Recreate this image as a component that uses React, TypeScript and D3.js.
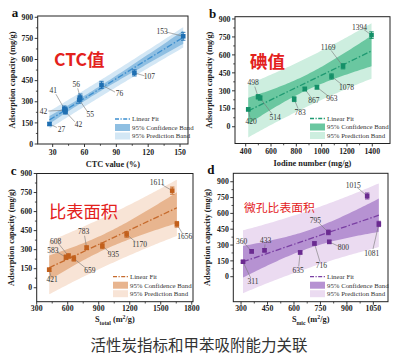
import React from "react";
import * as d3 from "d3";

// ---------- data ----------
const ctcX = [27, 41, 42, 42, 55, 56, 76, 107, 153];
const ctcY = [142, 250, 240, 230, 315, 330, 420, 505, 765];
const ctcErr = [10, 20, 20, 18, 25, 25, 25, 22, 28];

const iodX = [420, 498, 514, 783, 867, 963, 1078, 1169, 1394];
const iodY = [145, 250, 240, 230, 315, 330, 420, 505, 765];
const iodErr = [12, 18, 18, 20, 15, 15, 22, 22, 28];

const stotX = [421, 583, 608, 659, 783, 935, 1170, 1611, 1656];
const stotY = [142, 240, 250, 230, 315, 330, 420, 765, 500];
const stotErr = [12, 18, 18, 20, 15, 22, 22, 28, 22];

const smicX = [311, 360, 433, 635, 716, 795, 800, 1015, 1081];
const smicY = [142, 240, 250, 230, 315, 420, 330, 765, 500];
const smicErr = [10, 15, 15, 15, 15, 22, 15, 28, 25];

const yTicks = [0, 150, 300, 450, 600, 750, 900];
const ctcTicks = [30, 60, 90, 120, 150];
const iodTicks = [400, 600, 800, 1000, 1200, 1400];
const stotTicks = [300, 600, 900, 1200, 1500, 1800];
const smicTicks = [300, 450, 600, 750, 900, 1050];

const legendLabels = ["Linear Fit", "95% Confidence Band", "95% Prediction Band"];
const caption = "活性炭指标和甲苯吸附能力关联";
const T975 = 2.365; // t(0.975, df = 7)

// ---------- layout / style ----------
type PanelCfg = {
  letter: string;
  xs: number[]; ys: number[]; err: number[];
  xTicks: number[];
  xDomain: [number, number]; yDomain: [number, number];
  frame: { l: number; r: number; t: number; b: number };
  title: string; titleX: number; titleY: number; titleSize: number; titleWeight: number;
  xLabel: React.ReactNode;
  offsets: [number, number][];
  col: { mark: string; line: string; conf: string; pred: string };
  legendDx: number;
  tickGap: number; titleGap: number;
};

const panels: PanelCfg[] = [
  {
    letter: "a", xs: ctcX, ys: ctcY, err: ctcErr, xTicks: ctcTicks,
    xDomain: [15.9, 157.5], yDomain: [0, 909],
    frame: { l: 37.7, r: 188, t: 16, b: 144 },
    title: "CTC值", titleX: 54, titleY: 66, titleSize: 17.5, titleWeight: 700,
    xLabel: <tspan>CTC value (%)</tspan>,
    offsets: [[12, 5], [-11, -18], [-22, 1], [13, 13], [11, 15], [-4, -13], [18, 9], [15, 4], [-21, -5]],
    col: { mark: "#1f6fb2", line: "#3d8fcf", conf: "#8fbfe2", pred: "#d3e7f5" },
    legendDx: 73, tickGap: 10.5, titleGap: 22.5,
  },
  {
    letter: "b", xs: iodX, ys: iodY, err: iodErr, xTicks: iodTicks,
    xDomain: [315.5, 1540], yDomain: [-140, 919],
    frame: { l: 235, r: 390, t: 16.7, b: 143.5 },
    title: "碘值", titleX: 250, titleY: 68, titleSize: 17.5, titleWeight: 700,
    xLabel: <tspan>Iodine number (mg/g)</tspan>,
    offsets: [[3, 12], [-5, -14], [15, 19], [6, 13], [9, 11], [15, 11], [15, 11], [-15, -19], [-12, -8]],
    col: { mark: "#149068", line: "#1f9a72", conf: "#6ac7a0", pred: "#cdeedf" },
    legendDx: 80, tickGap: 10.5, titleGap: 22.5,
  },
  {
    letter: "c", xs: stotX, ys: stotY, err: stotErr, xTicks: stotTicks,
    xDomain: [300, 1812], yDomain: [-110, 900],
    frame: { l: 36.7, r: 193, t: 173.5, b: 301.7 },
    title: "比表面积", titleX: 49, titleY: 218, titleSize: 17.3, titleWeight: 400,
    xLabel: <tspan>S<tspan baselineShift="sub" fontSize="70%">total</tspan> (m<tspan baselineShift="super" fontSize="70%">2</tspan>/g)</tspan>,
    offsets: [[3, 10], [-13, -7], [-13, -15], [16, 12], [-3, -16], [11, 9], [13, 10], [-15, -8], [8, 12]],
    col: { mark: "#c2601c", line: "#c66a2c", conf: "#e8b58f", pred: "#f8e4d6" },
    legendDx: 80, tickGap: 9.5, titleGap: 20.5,
  },
  {
    letter: "d", xs: smicX, ys: smicY, err: smicErr, xTicks: smicTicks,
    xDomain: [256, 1133], yDomain: [-237, 980],
    frame: { l: 233.3, r: 388, t: 173.3, b: 301.7 },
    title: "微孔比表面积", titleX: 244, titleY: 212, titleSize: 11.8, titleWeight: 400,
    xLabel: <tspan>S<tspan baselineShift="sub" fontSize="70%">mic</tspan> (m<tspan baselineShift="super" fontSize="70%">2</tspan>/g)</tspan>,
    offsets: [[10, 20], [-10, -10], [1, -10], [-2, 18], [7, 22], [-13, -12], [14, 6], [-14, -11], [-7, 29]],
    col: { mark: "#6a2a90", line: "#7a3fa3", conf: "#b692d2", pred: "#ebdbf1" },
    legendDx: 78, tickGap: 9.5, titleGap: 20.5,
  },
];

const SERIF = "'Liberation Serif', 'Times New Roman', serif";

function regress(xs: number[], ys: number[]) {
  const n = xs.length;
  const mx = d3.mean(xs)!;
  const my = d3.mean(ys)!;
  const sxx = d3.sum(xs, (x) => (x - mx) ** 2);
  const sxy = d3.sum(xs, (x, i) => (x - mx) * (ys[i] - my));
  const b = sxy / sxx;
  const a = my - b * mx;
  const sse = d3.sum(xs, (x, i) => (ys[i] - a - b * x) ** 2);
  const s = Math.sqrt(sse / (n - 2));
  return { n, mx, sxx, a, b, s };
}

function Panel({ p, idx }: { p: PanelCfg; idx: number }) {
  const { frame: f } = p;
  const x = d3.scaleLinear().domain(p.xDomain).range([f.l, f.r]);
  const y = d3.scaleLinear().domain(p.yDomain).range([f.b, f.t]);
  const r = regress(p.xs, p.ys);
  const [x0, x1] = d3.extent(p.xs) as [number, number];
  const grid = d3.range(0, 61).map((i) => x0 + ((x1 - x0) * i) / 60);
  const fitY = (v: number) => r.a + r.b * v;
  const se = (v: number, pred: boolean) =>
    r.s * Math.sqrt((pred ? 1 : 0) + 1 / r.n + (v - r.mx) ** 2 / r.sxx);
  const area = (pred: boolean) =>
    d3.area<number>()
      .x((v) => x(v))
      .y0((v) => y(fitY(v) - T975 * se(v, pred)))
      .y1((v) => y(fitY(v) + T975 * se(v, pred)))(grid) || "";
  const clipId = `clip${idx}`;
  const minor = p.xTicks.slice(0, -1).map((t, i) => (t + p.xTicks[i + 1]) / 2);
  const yMinor = yTicks.slice(0, -1).map((t, i) => (t + yTicks[i + 1]) / 2);
  const lx = f.r - p.legendDx;
  const ly = f.b - 25;
  return (
    <g>
      <defs>
        <clipPath id={clipId}>
          <rect x={f.l} y={f.t} width={f.r - f.l} height={f.b - f.t} />
        </clipPath>
      </defs>
      <g clipPath={`url(#${clipId})`}>
        <path d={area(true)} fill={p.col.pred} />
        <path d={area(false)} fill={p.col.conf} />
        <line x1={x(x0)} x2={x(x1)} y1={y(fitY(x0))} y2={y(fitY(x1))}
          stroke={p.col.line} strokeWidth={1.3} strokeDasharray="6,2,1.5,2" />
      </g>
      {/* leader lines and labels */}
      {p.xs.map((v, i) => {
        const px = x(v), py = y(p.ys[i]);
        const [dx, dy] = p.offsets[i];
        const tx = px + dx, ty = py + dy;
        const len = Math.hypot(dx, dy);
        const ex = tx - (dx / len) * 5, ey = ty - (dy / len) * 4;
        return (
          <g key={"l" + i}>
            <line x1={px} y1={py} x2={ex} y2={ey} stroke="#777" strokeWidth={0.6} />
            <text x={tx} y={ty + 2.6} fontSize={7.5} fontFamily={SERIF} fill="#333" textAnchor="middle">{v}</text>
          </g>
        );
      })}
      {/* points with error bars */}
      {p.xs.map((v, i) => {
        const px = x(v), py = y(p.ys[i]);
        const yt = y(p.ys[i] + p.err[i]), yb = y(p.ys[i] - p.err[i]);
        return (
          <g key={"p" + i}>
            <line x1={px} x2={px} y1={yt} y2={yb} stroke={p.col.mark} strokeWidth={0.9} />
            <line x1={px - 2.2} x2={px + 2.2} y1={yt} y2={yt} stroke={p.col.mark} strokeWidth={0.9} />
            <line x1={px - 2.2} x2={px + 2.2} y1={yb} y2={yb} stroke={p.col.mark} strokeWidth={0.9} />
            <rect x={px - 2.3} y={py - 2.3} width={4.6} height={4.6} fill={p.col.mark} />
          </g>
        );
      })}
      {/* frame */}
      <rect x={f.l} y={f.t} width={f.r - f.l} height={f.b - f.t} fill="none" stroke="#222" strokeWidth={1} />
      {/* x ticks */}
      {p.xTicks.map((t) => (
        <g key={"xt" + t}>
          <line x1={x(t)} x2={x(t)} y1={f.b} y2={f.b + 3} stroke="#222" strokeWidth={0.9} />
          <text x={x(t)} y={f.b + p.tickGap} fontSize={7.8} fontWeight={700} fontFamily={SERIF} textAnchor="middle" fill="#222">{t}</text>
        </g>
      ))}
      {minor.map((t) => (
        <line key={"xm" + t} x1={x(t)} x2={x(t)} y1={f.b} y2={f.b + 1.8} stroke="#222" strokeWidth={0.8} />
      ))}
      {/* y ticks */}
      {yTicks.map((t) => (
        <g key={"yt" + t}>
          <line x1={f.l - 3} x2={f.l} y1={y(t)} y2={y(t)} stroke="#222" strokeWidth={0.9} />
          <text x={f.l - 4.5} y={y(t) + 2.7} fontSize={7.8} fontWeight={700} fontFamily={SERIF} textAnchor="end" fill="#222">{t}</text>
        </g>
      ))}
      {yMinor.map((t) => (
        <line key={"ym" + t} x1={f.l - 1.8} x2={f.l} y1={y(t)} y2={y(t)} stroke="#222" strokeWidth={0.8} />
      ))}
      {/* axis titles */}
      <text x={(f.l + f.r) / 2} y={f.b + p.titleGap} fontSize={8.3} fontWeight={700} fontFamily={SERIF} textAnchor="middle" fill="#222">{p.xLabel}</text>
      <text transform={`translate(${f.l - 23},${(f.t + f.b) / 2}) rotate(-90)`} fontSize={8.3} fontWeight={700} fontFamily={SERIF} textAnchor="middle" fill="#222">
        Adsorption capacity (mg/g)
      </text>
      <text x={f.l - 26} y={f.t + 1} fontSize={13} fontWeight={700} fontFamily={SERIF} fill="#111">{p.letter}</text>
      {/* big red title */}
      <text x={p.titleX} y={p.titleY} fontSize={p.titleSize} fontWeight={p.titleWeight}
        fontFamily="'Noto Sans CJK SC', 'Noto Sans', sans-serif" fill="#e3211c">{p.title}</text>
      {/* legend */}
      <g fontFamily={SERIF} fontSize={6.8} fill="#333">
        <line x1={lx} x2={lx + 15} y1={ly} y2={ly} stroke={p.col.line} strokeWidth={1.3} strokeDasharray="4,1.5,1.2,1.5" />
        <text x={lx + 17} y={ly + 2.3}>{legendLabels[0]}</text>
        <rect x={lx} y={ly + 5} width={15} height={7} fill={p.col.conf} />
        <text x={lx + 17} y={ly + 10.8}>{legendLabels[1]}</text>
        <rect x={lx} y={ly + 13.5} width={15} height={7} fill={p.col.pred} />
        <text x={lx + 17} y={ly + 19.3}>{legendLabels[2]}</text>
      </g>
    </g>
  );
}

export default function App() {
  return (
    <svg width={410} height={359} style={{ position: "absolute", left: 0, top: 0, background: "#fff" }}>
      <rect width={410} height={359} fill="#fff" />
      {panels.map((p, i) => (
        <Panel key={p.letter} p={p} idx={i} />
      ))}
      <text x={199} y={351} fontSize={15.5} fontFamily="'Noto Sans CJK SC', sans-serif" fill="#333" textAnchor="middle">
        {caption}
      </text>
    </svg>
  );
}
